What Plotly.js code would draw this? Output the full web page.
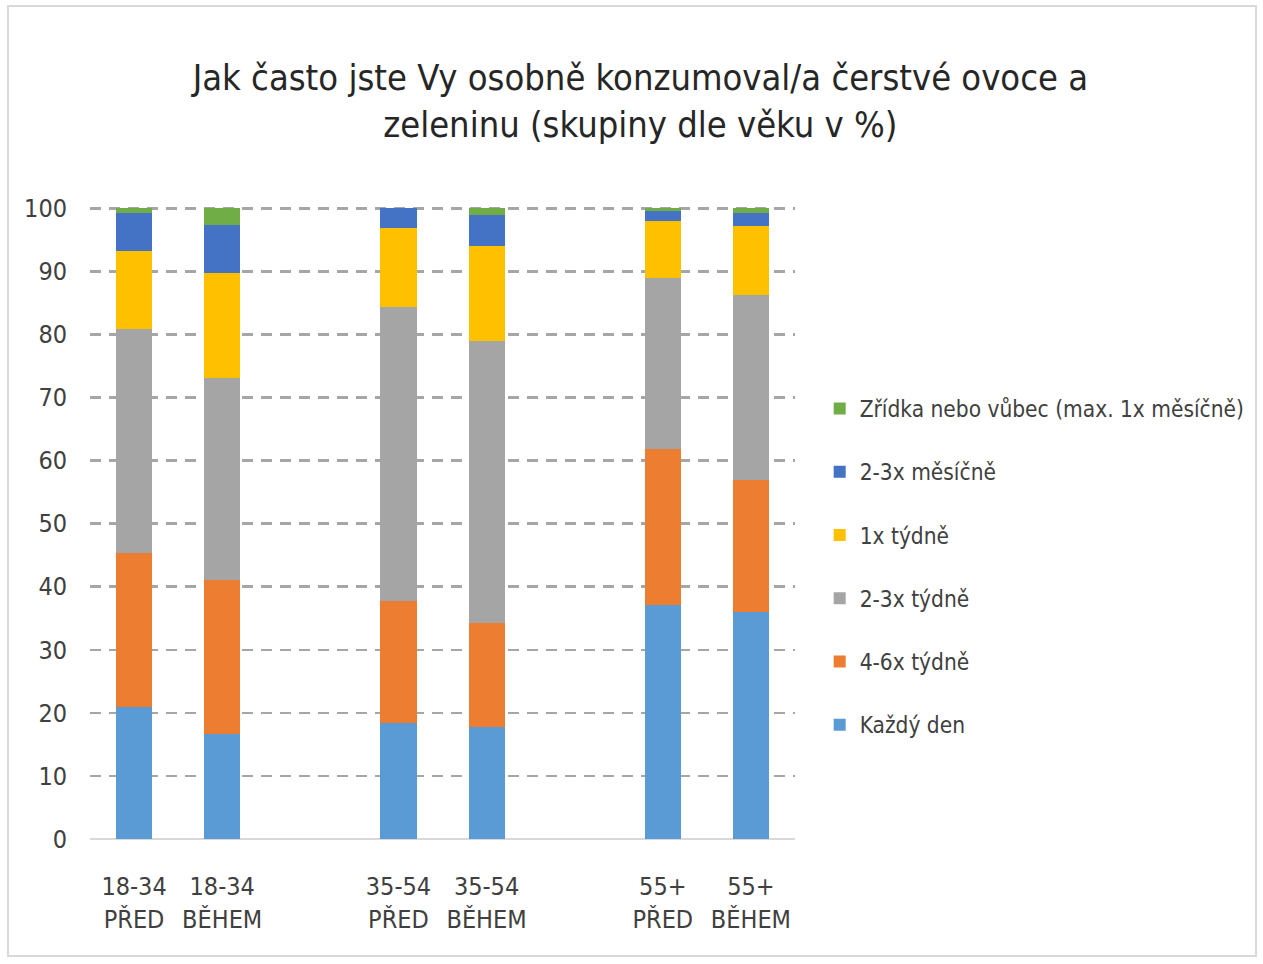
<!DOCTYPE html>
<html>
<head>
<meta charset="utf-8">
<script src="https://cdn.plot.ly/plotly-3.0.1.min.js"></script>
<style>
  html, body { margin: 0; padding: 0; background: #fff; }
  #chart { width: 1263px; height: 964px; }
  #frame { position: absolute; left: 7px; top: 5px; width: 1250px; height: 952px; border: 2px solid #D9D9D9; box-sizing: border-box; pointer-events: none; }
</style>
</head>
<body>
<div id="chart"></div>
<div id="frame"></div>
<script>
// Categories (positions 2 and 5 are empty gaps between age groups)
const categories = ["18-34<br>PŘED", "18-34<br>BĚHEM", "35-54<br>PŘED", "35-54<br>BĚHEM", "55+<br>PŘED", "55+<br>BĚHEM"];
const positions = [0, 1, 3, 4, 6, 7];

const seriesNames = ["Každý den", "4-6x týdně", "2-3x týdně", "1x týdně", "2-3x měsíčně", "Zřídka nebo vůbec (max. 1x měsíčně)"];
const kazdyDen    = [21.0, 16.7, 18.4, 17.8, 37.1, 36.0];
const tydne46     = [24.3, 24.3, 19.3, 16.5, 24.7, 20.9];
const tydne23     = [35.5, 32.1, 46.7, 44.7, 27.2, 29.3];
const tydne1      = [12.4, 16.7, 12.5, 15.1,  9.0, 11.0];
const mesicne23   = [ 6.0,  7.6,  3.1,  4.8,  1.5,  2.0];
const zridka      = [ 0.8,  2.6,  0.0,  1.1,  0.5,  0.8];
const seriesValues = [kazdyDen, tydne46, tydne23, tydne1, mesicne23, zridka];
const colors = ["#5B9BD5", "#ED7D31", "#A5A5A5", "#FFC000", "#4472C4", "#70AD47"];
const yTicks = [0, 10, 20, 30, 40, 50, 60, 70, 80, 90, 100];

const FONT = "'DejaVu Sans Condensed', 'Open Sans', sans-serif";

const traces = seriesNames.map((name, i) => ({
  type: "bar",
  name: name,
  x: positions,
  y: seriesValues[i],
  width: 0.41,
  marker: { color: colors[i], line: { width: 0 } },
  legendgroup: "g" + i,
  legendrank: 100 - i,
  hoverinfo: "name+y"
}));

const layout = {
  width: 1263,
  height: 964,
  margin: { l: 90, r: 468, t: 202, b: 125, autoexpand: false },
  paper_bgcolor: "#ffffff",
  plot_bgcolor: "#ffffff",
  barmode: "stack",
  font: { family: FONT, color: "#404040" },
  title: {
    text: "Jak často jste Vy osobně konzumoval/a čerstvé ovoce a<br>zeleninu (skupiny dle věku v %)",
    font: { family: FONT, size: 36, color: "#262626" },
    x: 0.507, xanchor: "center",
    yref: "container", y: 0.9066, yanchor: "middle"
  },
  xaxis: {
    type: "linear",
    range: [-0.5, 7.5],
    tickmode: "array",
    tickvals: positions,
    ticktext: categories,
    ticks: "",
    showgrid: false,
    zeroline: false,
    showline: false,
    ticklabelstandoff: 30,
    tickfont: { family: FONT, size: 25, color: "#404040" }
  },
  yaxis: {
    range: [0, 101],
    tickmode: "array",
    tickvals: yTicks,
    showgrid: true,
    gridcolor: "#A6A6A6",
    gridwidth: 2.5,
    griddash: "11px,8px",
    zeroline: true,
    zerolinecolor: "#D9D9D9",
    zerolinewidth: 1.5,
    showline: false,
    ticks: "",
    ticklabelstandoff: 22,
    tickfont: { family: FONT, size: 25, color: "#404040" }
  },
  showlegend: true,
  legend: {
    traceorder: "grouped",
    tracegroupgap: 31,
    xref: "container", x: 0.649, xanchor: "left",
    yref: "container", y: 0.412, yanchor: "middle",
    font: { family: FONT, size: 22.5, color: "#404040" },
    bgcolor: "rgba(0,0,0,0)"
  }
};

Plotly.newPlot("chart", traces, layout, { displayModeBar: false, staticPlot: true });
</script>
</body>
</html>
